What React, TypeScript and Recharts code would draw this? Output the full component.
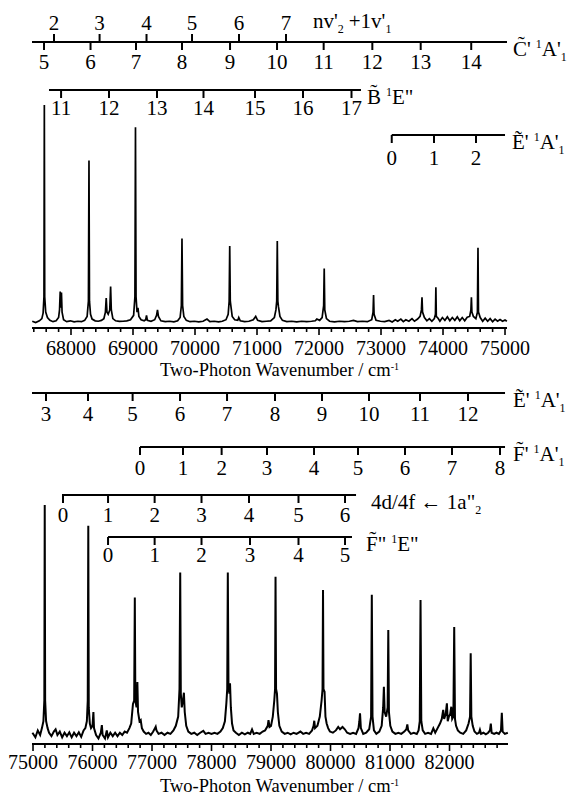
import React from 'react'
import { LineChart, Line, XAxis, YAxis, ReferenceLine, ReferenceDot } from 'recharts'

const FONT = '"Liberation Serif", "Times New Roman", serif'

// upper spectrum, [wavenumber, intensity]
const upperSpectrum: [number, number][] = [
  [67375, 0.8], [67430, 0.2], [67490, 1.0], [67530, 2.0], [67550, 4.5], [67564, 12], [67570, 100], [67576, 12],
  [67592, 5], [67620, 2.5], [67660, 1.2], [67710, 0.6], [67760, 1.0], [67800, 2.5], [67815, 6], [67826, 14.4],
  [67834, 7], [67846, 14], [67856, 5], [67880, 1.5], [67930, 0.6], [67990, 1.0], [68050, 0.5], [68110, 0.8],
  [68170, 0.6], [68220, 1.2], [68260, 3], [68281, 10], [68290, 74.5], [68298, 10], [68315, 4], [68340, 1.8],
  [68390, 1.0], [68440, 0.8], [68490, 1.2], [68530, 2], [68555, 5], [68568, 11.4], [68580, 5], [68600, 4],
  [68625, 6], [68639, 16.7], [68650, 6], [68675, 2], [68720, 1.0], [68780, 0.7], [68840, 0.8], [68900, 1.0],
  [68960, 1.5], [69010, 3.5], [69031, 12], [69040, 89.8], [69049, 12], [69065, 5], [69080, 7], [69095, 3],
  [69130, 1.5], [69180, 1.0], [69205, 1.5], [69218, 3.5], [69232, 1.2], [69290, 0.8], [69350, 1.5], [69380, 3.5],
  [69395, 6], [69410, 3], [69450, 1.0], [69520, 0.6], [69590, 0.8], [69660, 0.5], [69720, 1.0], [69760, 2.5],
  [69780, 8], [69790, 38.8], [69800, 8], [69820, 3], [69860, 1.2], [69920, 0.6], [69990, 0.8], [70060, 0.5],
  [70130, 0.8], [70193, 1.8], [70240, 0.6], [70310, 0.8], [70380, 0.5], [70440, 0.8], [70500, 1.5], [70535, 4],
  [70551, 10], [70560, 35.3], [70569, 10], [70580, 7.5], [70600, 3], [70640, 1.5], [70690, 1.2], [70706, 2.5],
  [70730, 1.0], [70800, 0.6], [70870, 0.8], [70940, 1.5], [70979, 3], [71010, 1.2], [71080, 0.6], [71150, 0.8],
  [71220, 1.0], [71280, 2.5], [71305, 6], [71318, 10], [71327, 37.6], [71336, 10], [71346, 7.5], [71370, 3],
  [71410, 1.2], [71480, 0.6], [71560, 0.8], [71640, 0.5], [71720, 0.8], [71800, 0.6], [71880, 0.8], [71940, 1.0],
  [71965, 1.8], [72010, 1.2], [72050, 2.5], [72075, 8], [72084, 25], [72093, 6], [72120, 2], [72170, 0.8],
  [72250, 0.5], [72330, 0.8], [72410, 0.6], [72490, 0.8], [72556, 1.2], [72620, 0.6], [72700, 0.8], [72780, 0.6],
  [72850, 1.5], [72872, 5], [72880, 12.8], [72888, 4], [72920, 1.2], [72990, 0.8], [73060, 0.6], [73130, 1.2],
  [73180, 0.5], [73230, 1.5], [73270, 0.8], [73320, 1.8], [73360, 0.6], [73400, 1.5], [73450, 0.8], [73500, 2.0],
  [73540, 0.8], [73590, 1.8], [73630, 3], [73652, 6], [73661, 11.8], [73670, 5], [73700, 2.5], [73740, 1.0],
  [73780, 2], [73820, 0.8], [73860, 2], [73878, 4], [73885, 16.4], [73892, 3], [73920, 2.2], [73950, 0.8],
  [73990, 2.5], [74030, 1.2], [74070, 2.8], [74110, 1.0], [74150, 2.5], [74190, 1.2], [74230, 2.8], [74270, 1.0],
  [74310, 2.5], [74350, 1.0], [74390, 2.6], [74430, 3], [74450, 6], [74458, 11.8], [74466, 5], [74490, 3],
  [74530, 2], [74555, 5], [74564, 34.5], [74572, 5], [74600, 2.5], [74640, 0.8], [74680, 2.2], [74720, 0.8],
  [74760, 2.0], [74800, 0.6], [74840, 1.8], [74880, 0.8], [74920, 1.6], [74960, 0.8], [75000, 1.4], [75030, 0.8],
]

// lower spectrum, [wavenumber, intensity]
const lowerSpectrum: [number, number][] = [
  [74990, 1], [75040, -1], [75080, 2], [75120, 0], [75150, 3], [75175, 6], [75190, 15], [75197, 100],
  [75204, 15], [75220, 6], [75245, 3], [75270, 1], [75310, -0.5], [75350, 1.5], [75380, 2.5], [75410, 0],
  [75450, 1.5], [75490, -1], [75530, 1], [75570, -0.5], [75610, 1.2], [75650, -1], [75690, 1], [75730, -0.5],
  [75770, 1.2], [75810, -0.8], [75850, 2], [75880, 3], [75905, 6], [75920, 15], [75929, 90.9], [75937, 12],
  [75955, 5], [75975, 3], [76000, 4], [76015, 10], [76025, 3], [76060, 0], [76100, -1.5], [76140, 1],
  [76157, 4.3], [76170, 0], [76210, -1.5], [76240, 2], [76260, -1], [76300, 1], [76340, -0.5], [76380, 1],
  [76420, -0.5], [76460, 1], [76500, 0], [76540, 1.5], [76580, 1], [76620, 3], [76650, 5], [76680, 13.5],
  [76700, 15], [76711, 59.8], [76720, 15], [76740, 12], [76754, 23], [76765, 10], [76790, 6], [76810, 6.5],
  [76830, 3], [76860, 1.5], [76900, 0.5], [76940, 1], [76980, 0], [77020, 1.5], [77050, 3], [77062, 3.6],
  [77075, 2], [77110, 0.5], [77160, 1], [77210, 0], [77260, 1], [77310, 0.5], [77360, 2], [77400, 4],
  [77440, 8], [77462, 20], [77474, 70.6], [77484, 18], [77500, 12], [77520, 15], [77536, 18.4], [77550, 10],
  [77575, 4], [77610, 1.5], [77660, 0.5], [77710, 1], [77760, 0], [77810, 1], [77862, 1.8], [77900, 0.5],
  [77950, 1], [78000, 0.5], [78050, 1], [78100, 0.5], [78150, 1.5], [78190, 3], [78225, 6], [78250, 14],
  [78264, 20], [78274, 70.6], [78285, 22], [78300, 18], [78311, 22.5], [78325, 12], [78345, 5], [78370, 2],
  [78410, 1], [78460, 0], [78510, 1], [78560, 0.3], [78610, 1], [78650, 0.5], [78681, 2.4], [78710, 0.5],
  [78760, 1], [78810, 0.5], [78860, 1.5], [78900, 2], [78945, 4], [78958, 6.5], [78975, 3.5], [79000, 4],
  [79030, 8], [79055, 15], [79068, 20], [79076, 68.8], [79085, 20], [79100, 18], [79115, 10], [79140, 4],
  [79180, 1.5], [79230, 0.5], [79280, 1], [79330, 0.3], [79380, 1], [79430, 0.5], [79494, 1.5], [79540, 0.5],
  [79590, 1], [79640, 0.5], [79690, 2], [79715, 4], [79727, 6.2], [79740, 3], [79780, 4], [79820, 8],
  [79850, 15], [79866, 20], [79874, 63], [79882, 20], [79900, 18.8], [79915, 8], [79935, 5], [79960, 3],
  [79990, 1.5], [80040, 1], [80090, 2], [80130, 3.5], [80160, 2.5], [80202, 3.5], [80240, 2.5], [80280, 1],
  [80330, 0.5], [80380, 1], [80430, 0.5], [80470, 3], [80485, 6], [80496, 9.4], [80510, 3], [80550, 0.5],
  [80600, 1], [80650, 2.5], [80682, 8], [80694, 61], [80706, 8], [80730, 2], [80770, 0.5], [80820, 1.5],
  [80860, 4], [80885, 12], [80897, 21], [80910, 10], [80935, 8], [80960, 12], [80971, 45.6], [80982, 10],
  [81005, 4], [81040, 1.5], [81090, 0.5], [81140, 1], [81190, 0.5], [81240, 1.5], [81275, 2.5], [81291, 4.6],
  [81305, 2], [81350, 0.5], [81400, 1], [81450, 0.5], [81480, 2], [81500, 6], [81513, 58.7], [81526, 6],
  [81550, 2], [81590, 0.5], [81640, 1], [81690, 0.5], [81728, 2.9], [81760, 1], [81800, 3], [81840, 5],
  [81870, 7], [81894, 10.9], [81910, 7], [81935, 9], [81956, 13.8], [81970, 6], [81990, 8], [82010, 9],
  [82030, 12.3], [82045, 7], [82065, 8], [82079, 47], [82092, 7], [82110, 4], [82140, 2], [82180, 1],
  [82230, 0.5], [82280, 2], [82320, 5], [82345, 8], [82356, 35.5], [82367, 8], [82390, 4], [82420, 1.5],
  [82460, 0.5], [82495, 1], [82511, 2.3], [82530, 0.5], [82570, 1], [82610, 0.3], [82650, 1], [82680, 2],
  [82694, 5], [82708, 1], [82750, 0.5], [82790, 1], [82830, 0.5], [82865, 2], [82879, 9.7], [82893, 1.5],
  [82930, 0.5], [82980, 1],
]

const upperTicks = [
  67400, 67600, 67800, 68000, 68200, 68400, 68600, 68800, 69000, 69200, 69400, 69600, 69800,
  70000, 70200, 70400, 70600, 70800, 71000, 71200, 71400, 71600, 71800, 72000, 72200, 72400,
  72600, 72800, 73000, 73200, 73400, 73600, 73800, 74000, 74200, 74400, 74600, 74800, 75000,
]
const lowerTicks = [
  75000, 75200, 75400, 75600, 75800, 76000, 76200, 76400, 76600, 76800, 77000, 77200, 77400,
  77600, 77800, 78000, 78200, 78400, 78600, 78800, 79000, 79200, 79400, 79600, 79800, 80000,
  80200, 80400, 80600, 80800, 81000, 81200, 81400, 81600, 81800, 82000, 82200, 82400, 82600, 82800,
]

// assignment combs (wavenumber of each tick)
const cPrimeSpan = [67371, 75032]
const cPrimeTicks = [67565, 68315, 69048, 69790, 70565, 71323, 72075, 72860, 73640, 74455]
const cPrimeLabels = ['5', '6', '7', '8', '9', '10', '11', '12', '13', '14']
const combBandTicks = [67726, 68461, 69218, 69952, 70710, 71468]
const combBandLabels = ['2', '3', '4', '5', '6', '7']
const bTildeSpan = [67645, 72677]
const bTildeTicks = [67840, 68613, 69387, 70137, 70968, 71742, 72524]
const bTildeLabels = ['11', '12', '13', '14', '15', '16', '17']
const eShortSpan = [73173, 75000]
const eShortTicks = [73173, 73855, 74532]
const eShortLabels = ['0', '1', '2']

const ePrimeSpan = [74983, 82933]
const ePrimeTicks = [75218, 75924, 76674, 77471, 78261, 79067, 79857, 80647, 81504, 82311]
const ePrimeLabels = ['3', '4', '5', '6', '7', '8', '9', '10', '11', '12']
const fPrimeSpan = [76798, 82933]
const fPrimeTicks = [76798, 77521, 78170, 78933, 79723, 80462, 81252, 82042, 82849]
const fPrimeLabels = ['0', '1', '2', '3', '4', '5', '6', '7', '8']
const rydbergSpan = [75487, 80429]
const rydbergTicks = [75504, 76261, 77044, 77832, 78630, 79462, 80244]
const rydbergLabels = ['0', '1', '2', '3', '4', '5', '6']
const fDoubleSpan = [76261, 80361]
const fDoubleTicks = [76261, 77044, 77832, 78647, 79462, 80244]
const fDoubleLabels = ['0', '1', '2', '3', '4', '5']

const upperData = upperSpectrum.map(([w, v]) => ({ w, v }))
const lowerData = lowerSpectrum.map(([w, v]) => ({ w, v }))

function AxisTick(props: any) {
  const { x, y, payload, labelDy } = props
  const major = payload.value % 1000 === 0
  return (
    <g>
      <line x1={x} x2={x} y1={y} y2={y + (major ? 7 : 4)} stroke="#000" strokeWidth={1.6} />
      {major && (
        <text x={x} y={y + labelDy} textAnchor="middle" fontSize={20} fontFamily={FONT} fill="#000">
          {payload.value}
        </text>
      )}
    </g>
  )
}

function AxisTitle(props: any) {
  const vb = props.viewBox || { x: 32, y: 0 }
  return (
    <text x={vb.x + 128} y={vb.y + 47.5} fontSize={18.5} fontFamily={FONT} fill="#000">
      Two-Photon Wavenumber / cm
      <tspan dy={-6} fontSize={10}>-1</tspan>
    </text>
  )
}

// electronic state label like C~' 1A'1
function stateLabel(letter: string, primes: string, sym: string, symPrime: string, sub: string) {
  return (x: number, y: number) => (
    <text x={x} y={y} fontSize={21} fontFamily={FONT} fill="#000">
      <tspan>{letter + '\u0303' + primes}</tspan>
      <tspan dx={5} dy={-8} fontSize={12}>1</tspan>
      <tspan dy={8}>{sym + symPrime}</tspan>
      {sub ? <tspan dx={0} dy={5} fontSize={12}>{sub}</tspan> : null}
    </text>
  )
}

const rydbergLabel = (x: number, y: number) => (
  <text x={x} y={y} fontSize={21} fontFamily={FONT} fill="#000">
    <tspan>4d/4f {'\u2190'} 1a"</tspan>
    <tspan dx={0} dy={5} fontSize={12}>2</tspan>
  </text>
)

const bandLabel = (x: number, y: number) => (
  <text x={x} y={y} fontSize={21} fontFamily={FONT} fill="#000">
    <tspan>nv'</tspan>
    <tspan dx={0} dy={5} fontSize={12}>2</tspan>
    <tspan dx={5} dy={-5}>+1v'</tspan>
    <tspan dx={0} dy={5} fontSize={12}>1</tspan>
  </text>
)

function combLine(id: string, row: number, span: number[], gap: number, title: (x: number, y: number) => React.ReactNode) {
  return (
    <ReferenceLine
      key={id}
      yAxisId="row"
      ifOverflow="visible"
      segment={[{ x: span[0], y: row }, { x: span[1], y: row }]}
      stroke="#000"
      strokeWidth={2}
      label={{
        content: (p: any) => {
          const vb = p.viewBox || { x: 0, y: 0, width: 0 }
          return title(vb.x + vb.width + gap, vb.y + 13.5)
        },
      }}
    />
  )
}

function combTicks(id: string, row: number, ticks: number[], labels: string[], offset: number, up = false) {
  return ticks.map((w, i) => (
    <ReferenceLine
      key={`${id}-${i}`}
      yAxisId="row"
      ifOverflow="visible"
      segment={[{ x: w, y: row }, { x: w, y: up ? row - 8 : row + 8 }]}
      stroke="#000"
      strokeWidth={2}
      label={{ value: labels[i], position: up ? 'top' : 'bottom', offset, fontSize: 21, fontFamily: FONT, fill: '#000' }}
    />
  ))
}

export default function App() {
  return (
    <div style={{ position: 'absolute', left: 0, top: 0, width: 571, height: 795, background: '#fff', fontFamily: FONT }}>
      <LineChart width={571} height={380} data={upperData} margin={{ top: 0, right: 64, left: 32, bottom: 0 }}>
        <XAxis
          dataKey="w"
          type="number"
          domain={[67371, 75032]}
          ticks={upperTicks}
          interval={0}
          tickSize={0}
          tickMargin={0}
          tickLine={false}
          height={52}
          axisLine={{ stroke: '#000', strokeWidth: 2 }}
          tick={<AxisTick labelDy={27} />}
          label={<AxisTitle />}
        />
        <YAxis yAxisId="sig" type="number" domain={[-2.3, 148.2]} hide allowDataOverflow />
        <YAxis yAxisId="row" type="number" domain={[0, 328]} reversed hide allowDataOverflow />
        <Line yAxisId="sig" type="linear" dataKey="v" stroke="#000" strokeWidth={1.7} dot={false} isAnimationActive={false} />
        {combLine('c', 42, cPrimeSpan, 6, stateLabel('C', "'", 'A', "'", '1'))}
        {combTicks('cl', 42, cPrimeTicks, cPrimeLabels, 4)}
        {combTicks('cu', 42, combBandTicks, combBandLabels, 4, true)}
        <ReferenceDot
          yAxisId="row"
          x={71903}
          y={28}
          r={0}
          fill="none"
          stroke="none"
          ifOverflow="visible"
          label={{ content: (p: any) => bandLabel((p.viewBox || { x: 0 }).x, (p.viewBox || { y: 0 }).y) }}
        />
        {combLine('b', 90, bTildeSpan, 6, stateLabel('B', '', 'E', '"', ''))}
        {combTicks('bl', 90, bTildeTicks, bTildeLabels, 2)}
        {combLine('e', 135, eShortSpan, 7, stateLabel('E', "'", 'A', "'", '1'))}
        {combTicks('el', 135, eShortTicks, eShortLabels, 7)}
      </LineChart>
      <LineChart width={571} height={415} data={lowerData} margin={{ top: 0, right: 63, left: 32, bottom: 0 }}>
        <XAxis
          dataKey="w"
          type="number"
          domain={[74983, 82983]}
          ticks={lowerTicks}
          interval={0}
          tickSize={0}
          tickMargin={0}
          tickLine={false}
          height={51}
          axisLine={{ stroke: '#000', strokeWidth: 2 }}
          tick={<AxisTick labelDy={24.5} />}
          label={<AxisTitle />}
        />
        <YAxis yAxisId="sig" type="number" domain={[-3.9, 154.3]} hide allowDataOverflow />
        <YAxis yAxisId="row" type="number" domain={[0, 364]} reversed hide allowDataOverflow />
        <Line yAxisId="sig" type="linear" dataKey="v" stroke="#000" strokeWidth={2} dot={false} isAnimationActive={false} />
        {combLine('ep', 13, ePrimeSpan, 8, stateLabel('E', "'", 'A', "'", '1'))}
        {combTicks('epl', 13, ePrimeTicks, ePrimeLabels, 5)}
        {combLine('fp', 67, fPrimeSpan, 8, stateLabel('F', "'", 'A', "'", '1'))}
        {combTicks('fpl', 67, fPrimeTicks, fPrimeLabels, 5)}
        {combLine('ry', 115, rydbergSpan, 15, rydbergLabel)}
        {combTicks('ryl', 115, rydbergTicks, rydbergLabels, 4)}
        {combLine('fd', 157, fDoubleSpan, 14, stateLabel('F', '"', 'E', '"', ''))}
        {combTicks('fdl', 157, fDoubleTicks, fDoubleLabels, 2)}
      </LineChart>
    </div>
  )
}
